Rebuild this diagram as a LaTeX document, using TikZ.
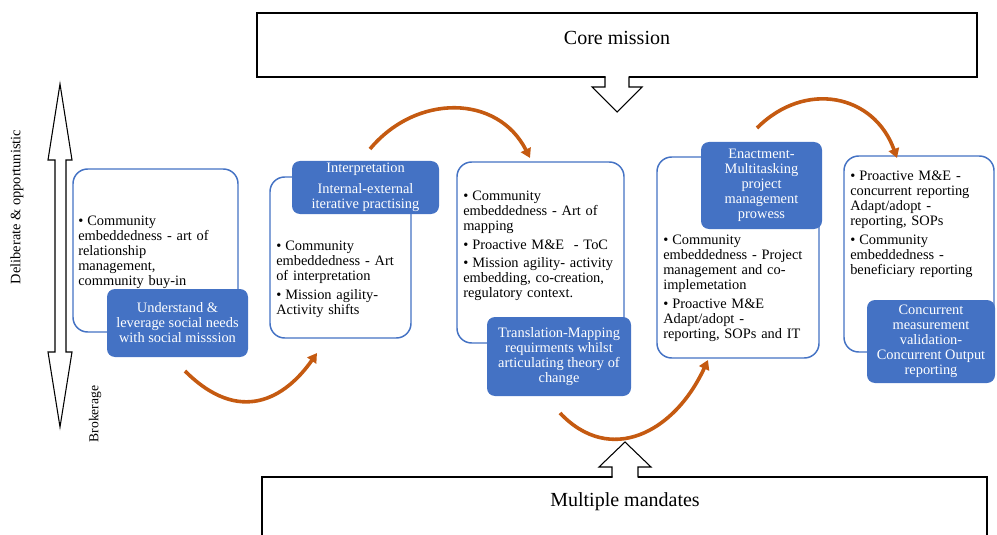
\documentclass[tikz,border=0pt]{standalone}
\usepackage{fontspec}
\setmainfont{Liberation Serif}
\usetikzlibrary{arrows.meta}
\definecolor{wordblue}{HTML}{4472C4}
\definecolor{arcorange}{RGB}{197,90,17}
\newcommand{\bodyfont}{\fontsize{10.8}{11.25}\selectfont}
\newcommand{\bfirst}{\par\noindent\hangindent=6.75pt\hangafter=1\makebox[6.75pt][l]{\textbullet}}
\newcommand{\bnext}{\par\vspace{2.5pt}\noindent\hangindent=6.75pt\hangafter=1\makebox[6.75pt][l]{\textbullet}}
\begin{document}
\begin{tikzpicture}[x=0.75pt,y=-0.75pt,
  wbox/.style={draw=wordblue,line width=1.1pt,rounded corners=11pt,fill=white,inner sep=0pt},
  bbox/.style={fill=wordblue,rounded corners=6pt,text=white,align=center,font=\bodyfont,inner sep=0pt},
  btext/.style={anchor=north west,text width=125pt,align=left,inner sep=0pt,font=\bodyfont},
  flow/.style={draw=arcorange,line width=2.7pt,-{Triangle[length=7pt,width=8pt]}},
  bigbox/.style={draw=black,line width=0.9pt,fill=white,inner sep=0pt},
  blockarrow/.style={draw=black,line width=0.8pt,line join=miter},
  sidelabel/.style={rotate=90,inner sep=0pt}]
\useasboundingbox (0,0) rectangle (997,535);

% big boxes
\node[bigbox,minimum width=540pt,minimum height=48pt] (core) at (617,45) {};
\node[inner sep=0pt,font=\fontsize{15}{18}\selectfont] (coretext) at (617,38) {Core mission};
\node[bigbox,minimum width=543.75pt,minimum height=64.5pt] (mand) at (624.5,520) {};
\node[inner sep=0pt,font=\fontsize{15}{18}\selectfont] (mandtext) at (625,502) {Multiple mandates};

% block arrows
\fill[white] (605.5,75.5) -- (605.5,87) -- (592,87) -- (617,112) -- (642,87) -- (628.5,87) -- (628.5,75.5) -- cycle;
\draw[blockarrow] (605,77.3) -- (605,87) -- (592,87) -- (617,112) -- (642,87) -- (629,87) -- (629,77.3);
\fill[white] (612.5,478.5) -- (612.5,467) -- (599,467) -- (625,442) -- (651,467) -- (637.5,467) -- (637.5,478.5) -- cycle;
\draw[blockarrow] (612,476.7) -- (612,467) -- (599,467) -- (625,442) -- (651,467) -- (638,467) -- (638,476.7);

% left double arrow
\draw[blockarrow,fill=white] (60,84) -- (72,160) -- (66,160) -- (66,352) -- (72,352) -- (60,427) -- (48,352) -- (55,352) -- (55,160) -- (48,160) -- cycle;
\node[sidelabel,font=\fontsize{10.8}{12}\selectfont] (delib) at (17,207) {Deliberate \& opportunistic};
\node[sidelabel,font=\fontsize{10.2}{12}\selectfont] (broker) at (95,414) {Brokerage};

% white boxes
\node[wbox,minimum width=123.75pt,minimum height=122.25pt] (b1) at (155.5,250.5) {};
\node[wbox,minimum width=105.75pt,minimum height=120.75pt] (b2) at (340.5,257.5) {};
\node[wbox,minimum width=125.25pt,minimum height=135.75pt] (b3) at (540.5,252.5) {};
\node[wbox,minimum width=121.5pt,minimum height=150.75pt] (b4) at (738,257.5) {};
\node[wbox,minimum width=112.5pt,minimum height=147pt] (b5) at (919,254) {};

% bullet texts
\node[btext] (l1) at (78,210.5) {\bfirst Community\\embeddedness - art of\\relationship\\management,\\community buy-in};
\node[btext] (l2) at (276,235.5) {\bfirst Community\\embeddedness - Art\\of interpretation\bnext Mission agility-\\Activity shifts};
\node[btext] (l3) at (463,185.5) {\bfirst Community\\embeddedness - Art of\\mapping\bnext Proactive M\&E\ \ - ToC\bnext Mission agility- activity\\embedding, co-creation,\\regulatory context.};
\node[btext] (l4) at (663,229.5) {\bfirst Community\\embeddedness - Project\\management and co-\\implemetation\bnext Proactive M\&E\\Adapt/adopt -\\reporting, SOPs and IT};
\node[btext] (l5) at (850,165.5) {\bfirst Proactive M\&E -\\concurrent reporting\\Adapt/adopt -\\reporting, SOPs\bnext Community\\embeddedness -\\beneficiary reporting};

% blue boxes
\node[bbox,minimum width=105.75pt,minimum height=51pt] (t1) at (177.5,323) {Understand \&\\leverage social needs\\with social misssion};
\node[bbox,minimum width=110.25pt,minimum height=39.75pt] (t2) at (365.5,187.5) {Interpretation\\[4.5pt]Internal-external\\iterative practising};
\node[bbox,minimum width=108pt,minimum height=59.25pt] (t3) at (559,356.5) {Translation-Mapping\\requirments whilst\\articulating theory of\\change};
\node[bbox,minimum width=90.75pt,minimum height=65.25pt] (t4) at (761.5,185.5) {Enactment-\\Multitasking\\project\\management\\prowess};
\node[bbox,minimum width=96pt,minimum height=62.25pt] (t5) at (931,341.5) {Concurrent\\measurement\\validation-\\Concurrent Output\\reporting};

% orange arcs
\coordinate (a1s) at (185,371);
\coordinate (a1e) at (317,353);
\coordinate (a2s) at (370,149);
\coordinate (a2e) at (530,158);
\coordinate (a3s) at (560,413);
\coordinate (a3e) at (708,360);
\coordinate (a4s) at (757,128);
\coordinate (a4e) at (897,158);
\draw[flow] (a1s) .. controls (240,426) and (285.5,398) .. (a1e);
\draw[flow] (a2s) .. controls (416,93.6) and (497.6,94) .. (a2e);
\draw[flow] (a3s) .. controls (610,466) and (674.4,432.8) .. (a3e);
\draw[flow] (a4s) .. controls (805,80) and (874,94) .. (a4e);
\end{tikzpicture}
\end{document}
